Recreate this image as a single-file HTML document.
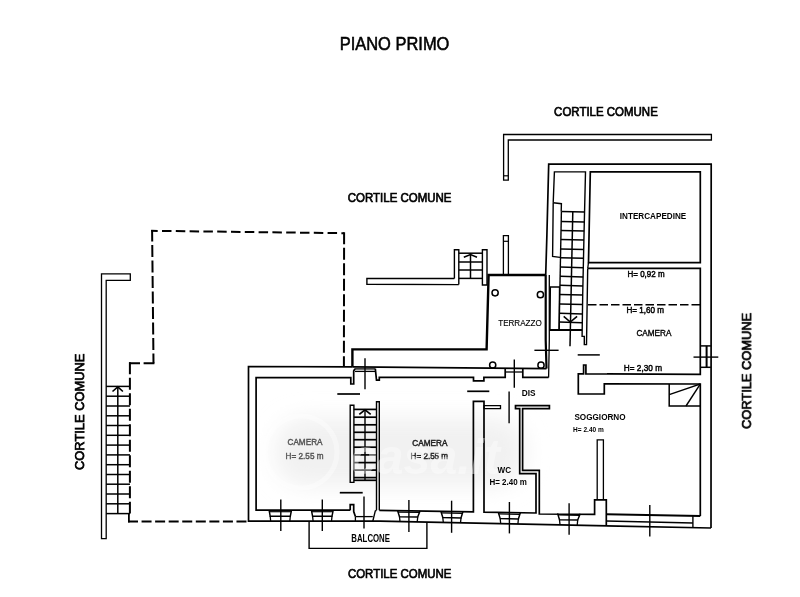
<!DOCTYPE html>
<html><head><meta charset="utf-8"><title>Piano Primo</title>
<style>
html,body{margin:0;padding:0;background:#fff;}
body{width:800px;height:597px;overflow:hidden;}
svg{display:block;font-family:"Liberation Sans",sans-serif;}
svg path,svg circle{fill:none;stroke:#000;stroke-linejoin:miter;stroke-linecap:butt;}
</style></head><body>
<svg width="800" height="597" viewBox="0 0 800 597">
<rect x="0" y="0" width="800" height="597" fill="#fff" stroke="none"/>
<defs><filter id="bl" x="-30%" y="-60%" width="160%" height="220%"><feGaussianBlur stdDeviation="11"/></filter></defs>
<rect x="275" y="418" width="250" height="68" rx="30" fill="#f1f1f1" stroke="none" filter="url(#bl)"/>
<g opacity="0.999"><text x="339.7" y="49.6" font-size="17.74" font-weight="normal" fill="#000" stroke="#000" stroke-width="0.55" textLength="109.7" lengthAdjust="spacingAndGlyphs">PIANO PRIMO</text>
<text x="554.1" y="115.7" font-size="12.57" font-weight="normal" fill="#000" stroke="#000" stroke-width="0.7" textLength="103.7" lengthAdjust="spacingAndGlyphs">CORTILE COMUNE</text>
<text x="347.8" y="202.1" font-size="12.57" font-weight="normal" fill="#000" stroke="#000" stroke-width="0.7" textLength="103.7" lengthAdjust="spacingAndGlyphs">CORTILE COMUNE</text>
<text x="347.9" y="578.4" font-size="13.13" font-weight="normal" fill="#000" stroke="#000" stroke-width="0.7" textLength="103.5" lengthAdjust="spacingAndGlyphs">CORTILE COMUNE</text>
<text transform="translate(84.0,470.0) rotate(-90)" x="0" y="0" font-size="13.13" font-weight="normal" fill="#000" stroke="#000" stroke-width="0.75" textLength="116.4" lengthAdjust="spacingAndGlyphs">CORTILE COMUNE</text>
<text transform="translate(750.9,428.9) rotate(-90)" x="0" y="0" font-size="12.71" font-weight="normal" fill="#000" stroke="#000" stroke-width="0.75" textLength="116.0" lengthAdjust="spacingAndGlyphs">CORTILE COMUNE</text>
<text x="619.8" y="219.4" font-size="9.64" font-weight="bold" fill="#000" stroke="none" textLength="66.5" lengthAdjust="spacingAndGlyphs">INTERCAPEDINE</text>
<text x="627.5" y="276.5" font-size="9.64" font-weight="normal" fill="#000" stroke="#000" stroke-width="0.5" textLength="37.1" lengthAdjust="spacingAndGlyphs">H= 0,92 m</text>
<text x="626.4" y="312.9" font-size="9.36" font-weight="normal" fill="#000" stroke="#000" stroke-width="0.5" textLength="37.6" lengthAdjust="spacingAndGlyphs">H= 1,60 m</text>
<text x="636.4" y="336.4" font-size="9.78" font-weight="normal" fill="#000" stroke="#000" stroke-width="0.4" textLength="35.0" lengthAdjust="spacingAndGlyphs">CAMERA</text>
<text x="623.8" y="370.5" font-size="9.78" font-weight="normal" fill="#000" stroke="#000" stroke-width="0.5" textLength="38.2" lengthAdjust="spacingAndGlyphs">H= 2,30 m</text>
<text x="498.2" y="326.2" font-size="9.78" font-weight="normal" fill="#000" stroke="#000" stroke-width="0.15" textLength="43.6" lengthAdjust="spacingAndGlyphs">TERRAZZO</text>
<text x="521.8" y="395.6" font-size="9.50" font-weight="bold" fill="#000" stroke="none" textLength="13.8" lengthAdjust="spacingAndGlyphs">DIS</text>
<text x="574.4" y="420.0" font-size="9.78" font-weight="bold" fill="#000" stroke="none" textLength="51.2" lengthAdjust="spacingAndGlyphs">SOGGIORNO</text>
<text x="573.1" y="431.9" font-size="7.82" font-weight="bold" fill="#000" stroke="none" textLength="30.7" lengthAdjust="spacingAndGlyphs">H= 2.40 m</text>
<text x="497.6" y="473.1" font-size="9.64" font-weight="bold" fill="#000" stroke="none" textLength="13.5" lengthAdjust="spacingAndGlyphs">WC</text>
<text x="489.4" y="485.4" font-size="9.78" font-weight="bold" fill="#000" stroke="none" textLength="37.5" lengthAdjust="spacingAndGlyphs">H= 2.40 m</text>
<text x="287.5" y="445.3" font-size="9.64" font-weight="normal" fill="#555" stroke="#555" stroke-width="0.45" textLength="35.0" lengthAdjust="spacingAndGlyphs">CAMERA</text>
<text x="285.6" y="458.5" font-size="9.92" font-weight="normal" fill="#555" stroke="#555" stroke-width="0.45" textLength="37.9" lengthAdjust="spacingAndGlyphs">H= 2.55 m</text>
<text x="412.3" y="445.6" font-size="9.64" font-weight="normal" fill="#222" stroke="#222" stroke-width="0.5" textLength="35.2" lengthAdjust="spacingAndGlyphs">CAMERA</text>
<text x="410.6" y="458.5" font-size="9.78" font-weight="normal" fill="#222" stroke="#222" stroke-width="0.5" textLength="37.5" lengthAdjust="spacingAndGlyphs">H= 2.55 m</text>
<text x="351.3" y="542.1" font-size="10.34" font-weight="bold" fill="#000" stroke="none" textLength="38.7" lengthAdjust="spacingAndGlyphs">BALCONE</text></g>
<path d="M130.3,273.8 L101.5,273.8 L101.5,538.7 L106.2,538.7 L106.2,280.3 L130.3,280.3 Z" stroke-width="1.3" />
<path d="M106.2,386.4 L130.0,386.4" stroke-width="1.5" />
<path d="M106.2,396.2 L130.0,396.2" stroke-width="1.5" />
<path d="M106.2,406.0 L130.0,406.0" stroke-width="1.5" />
<path d="M106.2,415.8 L130.0,415.8" stroke-width="1.5" />
<path d="M106.2,425.5 L130.0,425.5" stroke-width="1.5" />
<path d="M106.2,435.3 L130.0,435.3" stroke-width="1.5" />
<path d="M106.2,445.1 L130.0,445.1" stroke-width="1.5" />
<path d="M106.2,454.9 L130.0,454.9" stroke-width="1.5" />
<path d="M106.2,464.7 L130.0,464.7" stroke-width="1.5" />
<path d="M106.2,474.5 L130.0,474.5" stroke-width="1.5" />
<path d="M106.2,484.2 L130.0,484.2" stroke-width="1.5" />
<path d="M106.2,494.0 L130.0,494.0" stroke-width="1.5" />
<path d="M106.2,503.8 L130.0,503.8" stroke-width="1.5" />
<path d="M106.2,513.6 L130.0,513.6" stroke-width="1.5" />
<path d="M117.8,386.4 L117.8,513.6" stroke-width="1.5" />
<path d="M112.5,391.5 L117.8,386.8 L122.9,391.5" stroke-width="1.6" />
<path d="M151.2,230.8 L344.1,233.2" stroke-width="2.0" stroke-dasharray="9.5 4.3" stroke-dashoffset="3.0"/>
<path d="M152.1,230.0 L153.5,363.2" stroke-width="2.0" stroke-dasharray="12 3.5" stroke-dashoffset="0.5"/>
<path d="M344.1,232.3 L343.9,366.8" stroke-width="2.0" stroke-dasharray="12 3.5"/>
<path d="M129.0,363.2 L154.4,363.2" stroke-width="2.0" stroke-dasharray="11 3.6"/>
<path d="M129.9,362.3 L129.9,513.6" stroke-width="2.0" stroke-dasharray="12 3.5"/>
<path d="M128.9,513.0 L128.9,522.4" stroke-width="1.8" />
<path d="M128.0,521.5 L248.5,521.4" stroke-width="2.0" stroke-dasharray="10 3.56"/>
<path d="M454.4,278.5 L366.9,278.5 L366.9,284.2 L458.8,284.6" stroke-width="1.4" />
<path d="M454.4,278.5 L454.4,249.8 L458.8,249.8 L458.8,284.6" stroke-width="1.4" />
<path d="M482.4,249.8 L487.0,249.8 L487.0,285.0 L482.4,285.0 Z" stroke-width="1.4" />
<path d="M458.8,253.2 L482.4,253.2" stroke-width="1.5" />
<path d="M458.8,262.0 L482.4,262.0" stroke-width="1.5" />
<path d="M458.8,270.0 L482.4,270.0" stroke-width="1.5" />
<path d="M458.8,278.4 L482.4,278.4" stroke-width="1.5" />
<path d="M470.5,253.2 L470.5,278.4" stroke-width="1.5" />
<path d="M463.8,257.2 L470.5,254.5 L477.0,257.2" stroke-width="1.5" />
<path d="M503.6,134.5 L711.4,134.5 L711.4,140.0 L508.3,140.0 L508.3,180.2 L503.6,180.2 Z" stroke-width="1.3" />
<path d="M503.6,175.8 L508.3,175.8" stroke-width="1.2" />
<path d="M503.4,235.7 L508.4,235.7 L508.4,274.6 L503.4,274.6 Z" stroke-width="1.3" />
<path d="M503.4,241.3 L508.4,241.3" stroke-width="1.2" />
<path d="M546.0,275.0 L488.6,275.0 L486.6,349.4 L352.4,349.4 L352.4,366.8" stroke-width="2.4" />
<circle cx="495.1" cy="292.8" r="3.1" stroke-width="1.5"/>
<circle cx="540.4" cy="294.7" r="3.1" stroke-width="1.5"/>
<circle cx="492.7" cy="365.0" r="3.1" stroke-width="1.5"/>
<circle cx="541.0" cy="365.2" r="3.1" stroke-width="1.5"/>
<path d="M545.7,275.0 L546.9,235.0 L548.7,164.2 L711.2,164.2 L711.0,528.0" stroke-width="1.7" />
<path d="M545.7,275.0 L545.7,340.0 L546.5,368.6" stroke-width="2.2" />
<path d="M549.3,275.0 L549.3,340.0 L548.6,377.4" stroke-width="1.3" />
<path d="M534.4,350.3 L558.6,350.3" stroke-width="1.4" />
<path d="M553.2,202.7 L554.4,171.9 L585.5,171.9 L584.0,235.0 L582.7,295.0 L582.1,336.4 L584.3,336.4 L584.3,344.6 L586.5,344.6 L587.7,268.4" stroke-width="1.4" />
<path d="M553.2,202.7 L561.4,203.7 L561.2,211.5" stroke-width="1.4" />
<path d="M553.2,202.7 L552.6,256.4 L560.0,257.4" stroke-width="1.4" />
<path d="M561.4,211.5 L584.6,212.1" stroke-width="1.5" />
<path d="M561.2,221.5 L584.4,222.1" stroke-width="1.5" />
<path d="M561.0,230.5 L584.2,231.1" stroke-width="1.5" />
<path d="M560.9,239.5 L584.0,240.1" stroke-width="1.5" />
<path d="M560.7,248.9 L583.8,249.5" stroke-width="1.5" />
<path d="M560.5,257.7 L583.6,258.3" stroke-width="1.5" />
<path d="M560.3,267.1 L583.4,267.7" stroke-width="1.5" />
<path d="M560.1,276.3 L583.2,276.9" stroke-width="1.5" />
<path d="M560.0,285.3 L583.0,285.9" stroke-width="1.5" />
<path d="M559.8,294.5 L582.8,295.1" stroke-width="1.5" />
<path d="M559.6,303.9 L582.7,304.5" stroke-width="1.5" />
<path d="M559.4,313.3 L582.5,313.9" stroke-width="1.5" />
<path d="M559.3,322.1 L582.3,322.7" stroke-width="1.5" />
<path d="M561.4,211.5 L559.1,330.0" stroke-width="1.4" />
<path d="M572.8,211.5 L570.0,346.2" stroke-width="1.5" />
<path d="M550.4,287.0 L559.5,287.0 L559.1,329.8 L550.0,329.8 Z" stroke-width="1.3" />
<path d="M549.3,330.0 L582.1,330.0" stroke-width="2.2" />
<path d="M563.7,316.3 L570.3,322.0 L577.1,316.3" stroke-width="1.6" />
<path d="M590.3,171.9 L700.3,171.9 L700.3,262.7 L588.5,262.7 Z" stroke-width="1.7" />
<path d="M588.5,262.7 L587.7,268.4" stroke-width="1.3" />
<path d="M587.7,268.4 L700.3,268.4 L700.3,374.3 L585.9,373.9 L585.9,365.0 L583.6,365.0 L583.6,373.9 L578.3,373.9 L578.3,394.0 L604.3,394.0 L604.3,383.8 L700.3,384.0 L700.3,515.9" stroke-width="1.7" />
<path d="M588.0,304.8 L700.3,304.8" stroke-width="1.5" stroke-dasharray="8.5 3"/>
<path d="M577.7,354.9 L599.8,354.9" stroke-width="1.5" />
<path d="M700.3,345.9 L710.9,345.9" stroke-width="1.5" />
<path d="M700.3,367.3 L710.9,367.3" stroke-width="1.5" />
<path d="M706.6,345.9 L706.6,367.3" stroke-width="2.0" />
<path d="M693.5,357.1 L718.3,357.1" stroke-width="1.4" />
<path d="M700.3,406.0 L669.2,406.0 L669.2,384.0" stroke-width="1.5" />
<path d="M700.3,384.0 L669.2,394.6" stroke-width="1.4" />
<path d="M700.3,384.0 L686.0,406.0" stroke-width="1.4" />
<path d="M352.4,366.8 L248.5,366.5 L248.5,521.2 L380.0,521.2 L711.0,528.0" stroke-width="1.7" />
<path d="M352.4,366.8 L546.5,368.6" stroke-width="1.7" />
<path d="M350.2,510.2 L256.1,510.2 L256.1,377.7 L350.8,377.7 L350.8,384.0 L353.7,384.0 L353.7,371.0 L355.0,368.6" stroke-width="1.7" />
<path d="M355.0,371.4 L375.3,371.4" stroke-width="1.3" />
<path d="M355.0,368.9 L375.3,368.9" stroke-width="1.3" />
<path d="M375.3,368.6 L376.5,380.2 L379.3,380.2 L379.3,377.4 L473.5,377.4 L473.5,380.8 L483.9,380.8 L483.9,377.4 L505.2,377.4 L505.2,369.0" stroke-width="1.7" />
<path d="M365.0,358.2 L365.0,389.2" stroke-width="1.4" />
<path d="M337.3,394.0 L360.0,394.0" stroke-width="1.7" />
<path d="M505.2,372.0 L522.8,372.0" stroke-width="1.3" />
<path d="M522.8,369.0 L522.8,377.4 L548.6,377.4" stroke-width="1.7" />
<path d="M514.3,359.5 L514.3,387.7" stroke-width="1.4" />
<path d="M467.2,391.3 L489.3,391.3" stroke-width="1.7" />
<path d="M509.1,391.5 L509.1,423.3" stroke-width="1.4" />
<path d="M350.2,510.2 L350.2,504.6 L353.7,504.6 L353.7,511.5 L355.4,516.6" stroke-width="1.7" />
<path d="M350.2,405.2 L353.9,405.2 L353.9,482.4 L350.2,482.4 Z" stroke-width="1.4" />
<path d="M376.5,510.3 L376.5,401.8 L379.3,401.8 L379.3,510.3" stroke-width="1.4" />
<path d="M353.9,409.4 L376.5,409.4" stroke-width="1.7" />
<path d="M353.9,417.2 L376.5,417.2" stroke-width="1.7" />
<path d="M353.9,424.8 L376.5,424.8" stroke-width="1.7" />
<path d="M353.9,432.3 L376.5,432.3" stroke-width="1.7" />
<path d="M353.9,439.7 L376.5,439.7" stroke-width="1.7" />
<path d="M353.9,447.2 L376.5,447.2" stroke-width="1.7" />
<path d="M353.9,454.9 L376.5,454.9" stroke-width="1.7" />
<path d="M353.9,462.6 L376.5,462.6" stroke-width="1.7" />
<path d="M353.9,470.1 L376.5,470.1" stroke-width="1.7" />
<path d="M353.9,477.6 L376.5,477.6" stroke-width="1.7" />
<path d="M353.9,480.3 L376.5,480.3" stroke-width="1.7" />
<path d="M365.0,409.4 L365.0,480.3" stroke-width="1.4" />
<path d="M359.3,414.3 L365.0,409.8 L370.7,414.3" stroke-width="1.7" />
<path d="M339.8,492.7 L362.7,492.7" stroke-width="1.7" />
<path d="M355.4,516.6 L372.8,516.6" stroke-width="1.3" />
<path d="M355.4,516.6 L355.4,521.2" stroke-width="1.3" />
<path d="M372.8,521.2 L375.3,510.9 L376.5,510.3" stroke-width="1.4" />
<path d="M364.0,496.5 L364.0,528.5" stroke-width="1.4" />
<path d="M379.3,510.3 L473.4,511.9 L473.4,401.3 L484.0,401.3 L484.0,512.1 L536.0,513.0 L536.0,473.7 L519.7,473.7 L519.7,408.6 L515.5,408.6 L515.5,405.7 L549.4,405.7 L549.4,408.6 L522.6,408.6 L522.6,470.4 L539.3,470.4 L539.3,514.0 L594.6,514.3 L594.6,499.9 L606.3,499.9 L606.3,525.8" stroke-width="1.7" />
<path d="M484.0,405.7 L500.5,405.7 L500.5,408.6 L484.0,408.6 Z" stroke-width="1.3" />
<path d="M597.2,499.9 L597.2,439.8 L603.4,439.8 L603.4,499.9" stroke-width="1.3" />
<path d="M606.3,514.3 L700.3,515.9" stroke-width="2.0" />
<path d="M606.3,521.0 L692.9,523.0" stroke-width="1.4" />
<path d="M692.9,515.9 L692.9,527.6" stroke-width="1.4" />
<path d="M649.8,504.9 L649.8,536.6" stroke-width="1.4" />
<path d="M269.1,510.2 L270.2,516.3 L290.3,516.3 L291.5,510.2" stroke-width="1.5" />
<path d="M270.2,516.3 L270.7,521.2" stroke-width="1.3" />
<path d="M290.3,516.3 L289.8,521.2" stroke-width="1.3" />
<path d="M269.4,511.7 L291.2,511.7" stroke-width="1.2" />
<path d="M280.8,499.5 L280.8,530.9" stroke-width="1.4" />
<path d="M311.4,510.2 L312.6,516.3 L332.0,516.3 L333.2,510.2" stroke-width="1.5" />
<path d="M312.6,516.3 L313.1,521.2" stroke-width="1.3" />
<path d="M332.0,516.3 L331.5,521.2" stroke-width="1.3" />
<path d="M311.7,511.7 L332.9,511.7" stroke-width="1.2" />
<path d="M322.3,499.5 L322.3,530.9" stroke-width="1.4" />
<path d="M397.6,510.6 L399.5,516.7 L417.7,517.1 L420.0,511.0" stroke-width="1.5" />
<path d="M399.5,516.7 L400.0,521.6" stroke-width="1.3" />
<path d="M417.7,517.1 L417.2,522.0" stroke-width="1.3" />
<path d="M397.9,512.1 L419.7,512.5" stroke-width="1.2" />
<path d="M408.9,500.1 L408.9,532.1" stroke-width="1.4" />
<path d="M440.9,511.4 L442.8,517.5 L461.0,517.9 L462.9,511.8" stroke-width="1.5" />
<path d="M442.8,517.5 L443.3,522.5" stroke-width="1.3" />
<path d="M461.0,517.9 L460.5,522.9" stroke-width="1.3" />
<path d="M441.2,512.9 L462.6,513.3" stroke-width="1.2" />
<path d="M451.6,500.7 L451.6,532.8" stroke-width="1.4" />
<path d="M498.3,512.4 L500.2,518.6 L518.4,519.0 L520.3,512.8" stroke-width="1.5" />
<path d="M500.2,518.6 L500.7,523.7" stroke-width="1.3" />
<path d="M518.4,519.0 L517.9,524.0" stroke-width="1.3" />
<path d="M498.6,513.9 L520.0,514.3" stroke-width="1.2" />
<path d="M509.4,502.0 L509.4,533.4" stroke-width="1.4" />
<path d="M557.6,513.4 L559.5,519.8 L577.7,520.1 L580.2,513.8" stroke-width="1.5" />
<path d="M559.5,519.8 L560.0,524.9" stroke-width="1.3" />
<path d="M577.7,520.1 L577.2,525.3" stroke-width="1.3" />
<path d="M557.9,514.9 L579.9,515.3" stroke-width="1.2" />
<path d="M569.1,503.3 L569.1,534.7" stroke-width="1.4" />
<path d="M309.1,521.2 L309.1,548.4 L426.9,548.4 L426.9,522.2" stroke-width="1.4" />
<g opacity="0.4"><circle cx="301" cy="452" r="36" style="stroke:#fff;stroke-width:5"/>
<text x="350" y="474" font-size="50" font-weight="bold" font-style="italic" fill="#fff" stroke="none" textLength="150" lengthAdjust="spacingAndGlyphs">casa.it</text></g>
</svg>
</body></html>
